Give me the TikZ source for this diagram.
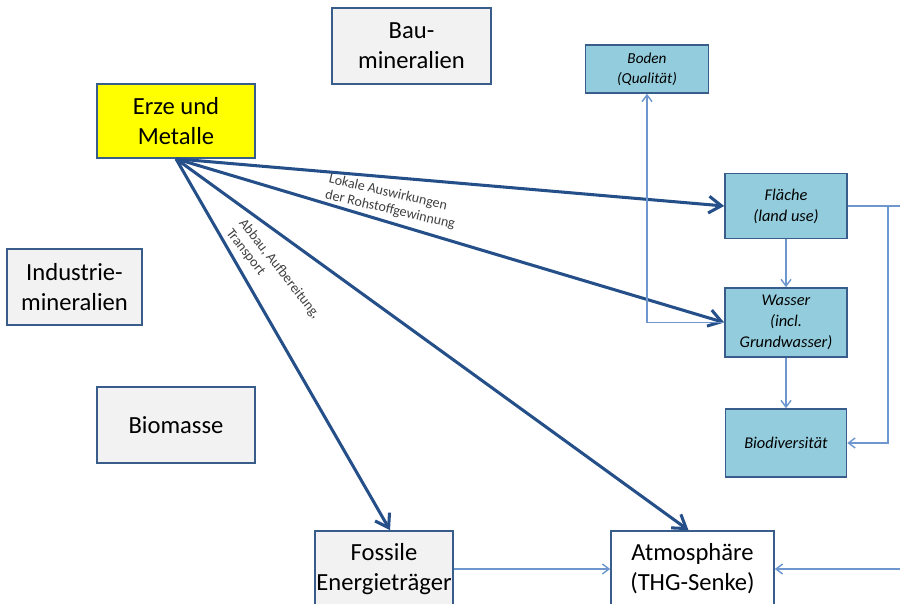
\documentclass[tikz,border=0pt]{standalone}
\usepackage{fontspec}
\setmainfont{Carlito}
\usetikzlibrary{arrows.meta,calc}
\definecolor{rand}{HTML}{385D8A}
\definecolor{grau}{HTML}{F2F2F2}
\definecolor{hellblau}{HTML}{93CDDD}
\definecolor{gelb}{HTML}{FFFF00}
\definecolor{dunkelblau}{HTML}{254F88}
\definecolor{linie}{HTML}{6E96CF}
\definecolor{schrift}{HTML}{404040}

\begin{document}
\begin{tikzpicture}[x=0.3mm,y=-0.3mm,
    box/.style={draw=rand,line width=1.4pt,fill=grau,align=center,inner sep=0pt,
      font=\fontsize{21}{25.5}\selectfont},
    klein/.style={draw=rand,line width=1.4pt,fill=hellblau,align=center,inner sep=0pt,
      font=\fontsize{14}{18}\selectfont\itshape},
    dick/.style={draw=dunkelblau,line width=2.6pt,-{Straight Barb[length=3.8mm,width=5mm]}},
    duenn/.style={draw=linie,line width=1.2pt,-{Straight Barb[length=2mm,width=3mm]}},
    beschr/.style={text=schrift,font=\fontsize{12}{14}\selectfont,align=left,inner sep=0pt}]
    \useasboundingbox (0,0) rectangle (900,604);
    \draw
    (411.5,46) node[box,minimum width=47.7mm,minimum height=22.8mm](Bau){Bau-\\mineralien}
    (176,121) node[box,fill=gelb,minimum width=47.4mm,minimum height=22.2mm](Erze){Erze und\\Metalle}
    (74.5,287) node[box,minimum width=40.5mm,minimum height=22.8mm](Industrie){Industrie-\\mineralien}
    (176,425) node[box,minimum width=47.4mm,minimum height=22.8mm](Biomasse){Biomasse}
    (384,569) node[box,minimum width=41.4mm,minimum height=22.8mm](Fossil){Fossile\\Energieträger}
    (692.5,569) node[box,fill=white,minimum width=48.9mm,minimum height=22.8mm](Atmo){Atmosphäre\\(THG-Senke)}
    (647,69) node[klein,font=\fontsize{13}{17}\selectfont\itshape,minimum width=36.9mm,minimum height=14.4mm](Boden){Boden\\(Qualität)}
    (786,206) node[klein,minimum width=36.6mm,minimum height=19.5mm](Flaeche){Fläche\\(land use)}
    (786,322.5) node[klein,minimum width=36.6mm,minimum height=20.7mm](Wasser){Wasser\\(incl.\\Grundwasser)}
    (786,443) node[klein,minimum width=36.3mm,minimum height=20.4mm](Biodiv){Biodiversität};
    \coordinate (knick) at (888,206);
    \coordinate (randO) at (900,206);
    \coordinate (randU) at (900,569);
    % Wirkungen der Rohstoffgewinnung
    \draw (Erze.south) edge[dick] (Flaeche.west)
                       edge[dick] (Wasser.west)
                       edge[dick] ([xshift=-1.2mm]Atmo.north)
                       edge[dick] ([xshift=1.8mm]Fossil.north);
    \draw (392,202) node[beschr,rotate=-13]{Lokale Auswirkungen\\der Rohstoffgewinnung}
          (273,274) node[beschr,rotate=-52]{Abbau, Aufbereitung,\\Transport};
    % Umweltmedien
    \draw (Flaeche) edge[duenn] (Wasser)
          (Wasser) edge[duenn] (Biodiv)
          (Fossil) edge[duenn] (Atmo)
          (randU) edge[duenn] (Atmo);
    \draw[duenn] (Wasser.west) -| (Boden.south);
    \draw[linie,line width=1.2pt] (Flaeche.east) -- (randO);
    \draw[duenn] (knick) |- (Biodiv.east);
\end{tikzpicture}
\end{document}
